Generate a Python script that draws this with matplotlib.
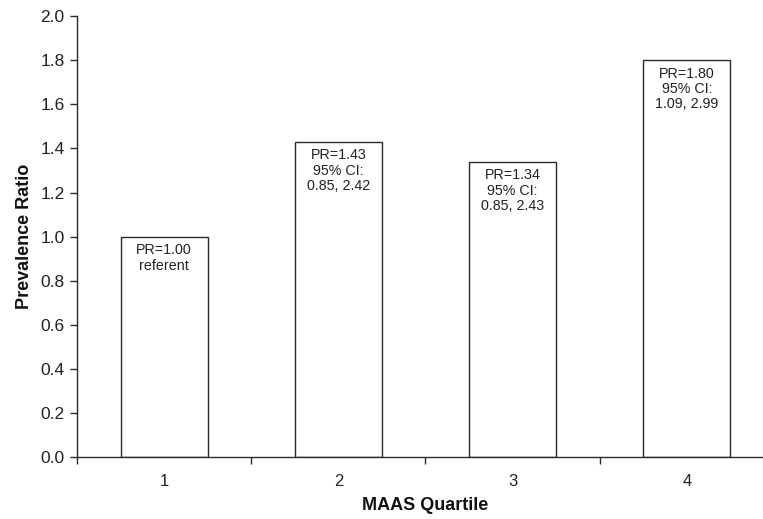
import matplotlib
matplotlib.use('Agg')
import matplotlib.pyplot as plt
from matplotlib.ticker import FixedLocator

plt.rcParams['font.family'] = ['Liberation Sans', 'DejaVu Sans']

# ── Datos ─────────────────────────────────────────────────────────────────────

quartiles = ['1', '2', '3', '4']
pr_values = [1.00, 1.43, 1.34, 1.80]
ci_low = [None, 0.85, 0.85, 1.09]
ci_high = [None, 2.42, 2.43, 2.99]
y_ticks = [0.0, 0.2, 0.4, 0.6, 0.8, 1.0, 1.2, 1.4, 1.6, 1.8, 2.0]

# ── Gráfico ───────────────────────────────────────────────────────────────────

fig = plt.figure(figsize=(7.63, 5.19), dpi=100)
ax = fig.add_axes([0.1009, 0.1185, 0.9135, 0.8507])

x = list(range(1, len(quartiles) + 1))
ax.bar(x, pr_values, width=0.5, color='white', edgecolor='#2a2a2a', linewidth=1.0, zorder=2)

# etiqueta dentro de cada barra: PR y su IC 95%
for xi, pr, lo, hi in zip(x, pr_values, ci_low, ci_high):
    if lo is None:
        txt = f"PR={pr:.2f}\nreferent"
    else:
        txt = f"PR={pr:.2f}\n95% CI:\n{lo:.2f}, {hi:.2f}"
    ax.text(xi, pr - 0.03, txt, ha='center', va='top', fontsize=10.3,
            color='#222222', linespacing=1.12, zorder=3)

ax.set_xlim(0.5, 4.5)
ax.set_ylim(0, 2.0)
ax.set_yticks(y_ticks)
ax.set_yticklabels([f"{v:.1f}" for v in y_ticks])
ax.set_xticks(x)
ax.set_xticklabels(quartiles)
ax.xaxis.set_minor_locator(FixedLocator([0.5, 1.5, 2.5, 3.5, 4.5]))

ax.tick_params(axis='x', which='major', length=0, pad=12, labelsize=12, colors='#222222')
ax.tick_params(axis='x', which='minor', length=5, width=1.0, direction='out', color='#2a2a2a')
ax.tick_params(axis='y', length=5, width=1.0, pad=4, labelsize=12.5, colors='#222222')
ax.tick_params(axis='y', which='major', color='#2a2a2a')

for side in ['top', 'right']:
    ax.spines[side].set_visible(False)
for side in ['left', 'bottom']:
    ax.spines[side].set_color('#2a2a2a')
    ax.spines[side].set_linewidth(1.0)

ax.set_xlabel("MAAS Quartile", fontsize=13, fontweight='bold', labelpad=6, color='#111111')
ax.set_ylabel("Prevalence Ratio", fontsize=13, fontweight='bold', labelpad=5, color='#111111')

fig.savefig("out.png", dpi=100)
plt.close(fig)
